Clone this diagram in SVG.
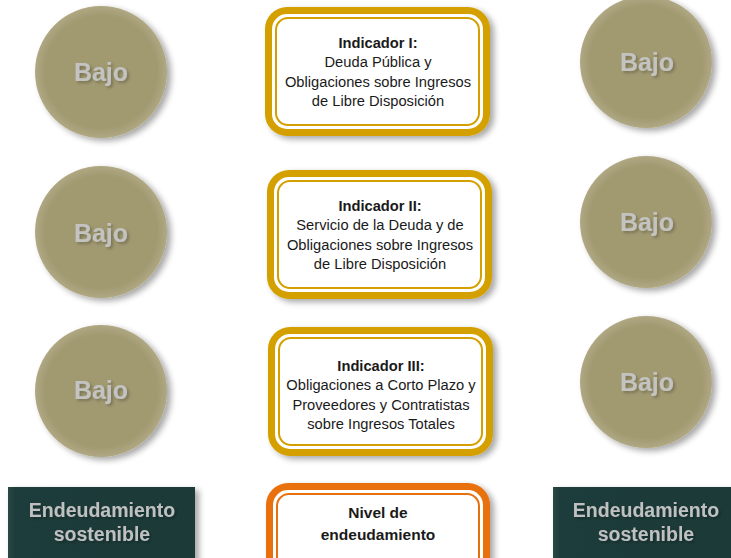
<svg xmlns="http://www.w3.org/2000/svg" width="731" height="558" viewBox="0 0 731 558">
<defs>
<filter id="sh" x="-20%" y="-20%" width="150%" height="150%">
<feGaussianBlur in="SourceAlpha" stdDeviation="3"/>
<feOffset dx="4" dy="3" result="b"/>
<feComponentTransfer><feFuncA type="linear" slope="0.35"/></feComponentTransfer>
<feMerge><feMergeNode/><feMergeNode in="SourceGraphic"/></feMerge>
</filter>
<filter id="tsh" x="-20%" y="-20%" width="140%" height="140%">
<feGaussianBlur in="SourceAlpha" stdDeviation="1.5"/>
<feOffset dx="2" dy="2"/>
<feComponentTransfer><feFuncA type="linear" slope="0.25"/></feComponentTransfer>
<feMerge><feMergeNode/><feMergeNode in="SourceGraphic"/></feMerge>
</filter>
<radialGradient id="cg" cx="0.5" cy="0.5" r="0.5">
<stop offset="0.85" stop-color="#a19970"/>
<stop offset="1" stop-color="#b0a883"/>
</radialGradient>
<linearGradient id="gg" x1="0" y1="0" x2="1" y2="0">
<stop offset="0" stop-color="#2a4946"/>
<stop offset="0.04" stop-color="#1d3c3a"/>
<stop offset="1" stop-color="#1b3a38"/>
</linearGradient>
<style>
.circ{fill:url(#cg)}
.bajo{font-family:"Liberation Sans",Arial,sans-serif;font-weight:bold;font-size:25px;fill:#c3c3c1;text-anchor:middle}
.gold{fill:#d4a000}
.orange{fill:#e8700f}
.white{fill:#ffffff}
.ringg{fill:none;stroke:#d4a000;stroke-width:2}
.ringo{fill:none;stroke:#e8700f;stroke-width:2}
.t{font-family:"Liberation Sans",Arial,sans-serif;font-size:14.7px;fill:#1a1a1a;text-anchor:middle}
.b{font-weight:bold}
.lvl{font-family:"Liberation Sans",Arial,sans-serif;font-size:15.5px;font-weight:bold;fill:#1a1a1a;text-anchor:middle}
.green{fill:url(#gg)}
.gt{font-family:"Liberation Sans",Arial,sans-serif;font-size:19.5px;font-weight:bold;fill:#c0c0c0;text-anchor:middle}
</style>
</defs>
<rect width="731" height="558" fill="#ffffff"/>

<g id="circle-left-1" filter="url(#sh)"><circle class="circ" cx="101" cy="72" r="66"/><text class="bajo" x="101" y="81" filter="url(#tsh)">Bajo</text></g>
<g id="circle-left-2" filter="url(#sh)"><circle class="circ" cx="101" cy="232" r="66"/><text class="bajo" x="101" y="242" filter="url(#tsh)">Bajo</text></g>
<g id="circle-left-3" filter="url(#sh)"><circle class="circ" cx="101" cy="391" r="66"/><text class="bajo" x="101" y="399" filter="url(#tsh)">Bajo</text></g>

<g id="circle-right-1" filter="url(#sh)"><circle class="circ" cx="646" cy="62" r="66"/><text class="bajo" x="647" y="71" filter="url(#tsh)">Bajo</text></g>
<g id="circle-right-2" filter="url(#sh)"><circle class="circ" cx="646" cy="222" r="66"/><text class="bajo" x="647" y="231" filter="url(#tsh)">Bajo</text></g>
<g id="circle-right-3" filter="url(#sh)"><circle class="circ" cx="646" cy="382" r="66"/><text class="bajo" x="647" y="391" filter="url(#tsh)">Bajo</text></g>

<g id="indicador-1">
<rect class="gold" x="265" y="7" width="225" height="129" rx="22" filter="url(#sh)"/>
<rect class="white" x="272" y="14" width="211" height="115" rx="15"/>
<rect class="ringg" x="276" y="18" width="203" height="107" rx="12"/>
<text class="t b" x="378" y="48">Indicador I:</text>
<text class="t" x="378" y="67">Deuda Pública y</text>
<text class="t" x="378" y="87">Obligaciones sobre Ingresos</text>
<text class="t" x="378" y="106">de Libre Disposición</text>
</g>

<g id="indicador-2">
<rect class="gold" x="267" y="170" width="225" height="129" rx="22" filter="url(#sh)"/>
<rect class="white" x="274" y="177" width="211" height="115" rx="15"/>
<rect class="ringg" x="278" y="181" width="203" height="107" rx="12"/>
<text class="t b" x="380" y="211">Indicador II:</text>
<text class="t" x="380" y="230">Servicio de la Deuda y de</text>
<text class="t" x="380" y="250">Obligaciones sobre Ingresos</text>
<text class="t" x="380" y="269">de Libre Disposición</text>
</g>

<g id="indicador-3">
<rect class="gold" x="268" y="327" width="225" height="129" rx="22" filter="url(#sh)"/>
<rect class="white" x="275" y="334" width="211" height="115" rx="15"/>
<rect class="ringg" x="279" y="338" width="203" height="107" rx="12"/>
<text class="t b" x="381" y="371">Indicador III:</text>
<text class="t" x="381" y="390">Obligaciones a Corto Plazo y</text>
<text class="t" x="381" y="410">Proveedores y Contratistas</text>
<text class="t" x="381" y="429">sobre Ingresos Totales</text>
</g>

<g id="nivel">
<rect class="orange" x="266" y="483" width="224" height="100" rx="22" filter="url(#sh)"/>
<rect class="white" x="273" y="490" width="210" height="86" rx="15"/>
<rect class="ringo" x="277" y="494" width="202" height="78" rx="12"/>
<text class="lvl" x="378" y="518">Nivel de</text>
<text class="lvl" x="378" y="540">endeudamiento</text>
</g>

<g id="sostenible-left" filter="url(#sh)">
<rect class="green" x="8" y="487" width="187" height="80"/>
<text class="gt" x="102" y="517" filter="url(#tsh)">Endeudamiento</text>
<text class="gt" x="102" y="541" filter="url(#tsh)">sostenible</text>
</g>

<g id="sostenible-right" filter="url(#sh)">
<rect class="green" x="553" y="487" width="190" height="80"/>
<text class="gt" x="646" y="517" filter="url(#tsh)">Endeudamiento</text>
<text class="gt" x="646" y="541" filter="url(#tsh)">sostenible</text>
</g>

<g id="connectors"/>
</svg>
